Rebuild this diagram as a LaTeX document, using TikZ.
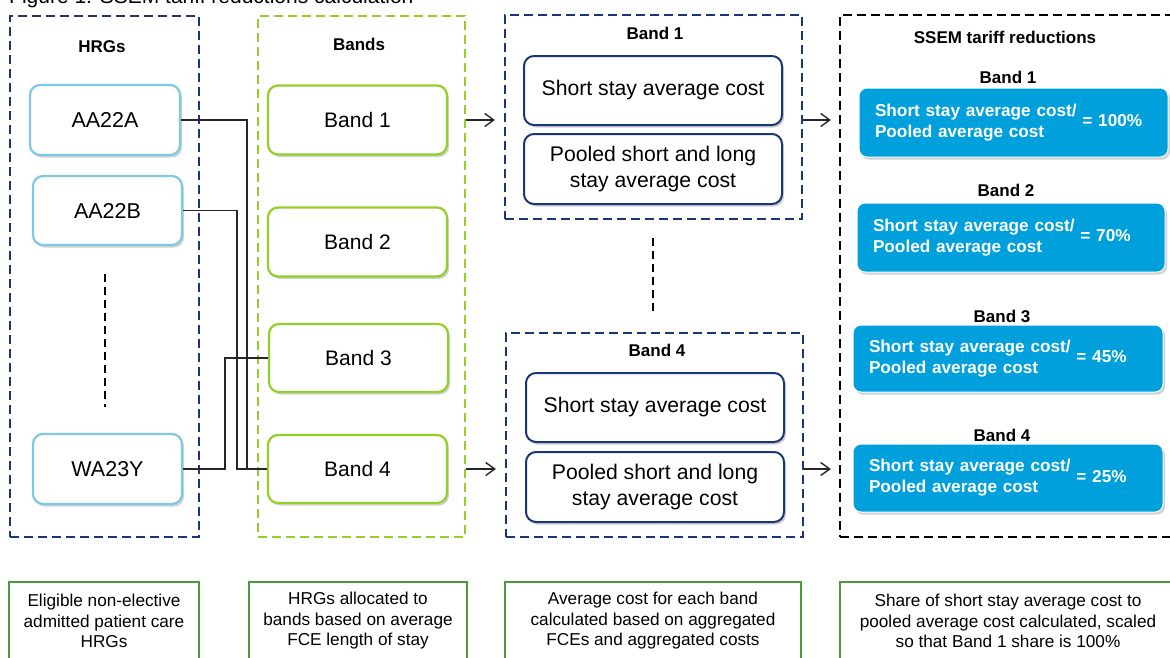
\documentclass[tikz,border=0pt]{standalone}
\usepackage{fontspec}
\setmainfont{Liberation Sans}
\usetikzlibrary{shadows,arrows.meta}
\definecolor{navy}{RGB}{25,55,120}
\definecolor{hrgblue}{RGB}{125,200,230}
\definecolor{lime}{RGB}{146,208,40}
\definecolor{ssblue}{RGB}{0,160,220}
\definecolor{notegreen}{RGB}{75,155,55}
\begin{document}
\begin{tikzpicture}[x=1pt,y=-1pt,
  shad/.style={drop shadow={shadow xshift=2pt,shadow yshift=-2.5pt,opacity=0.3,fill=black!60}},
  grp/.style={draw, line width=2.2pt, dash pattern=on 9pt off 5pt, inner sep=0pt},
  hrg/.style={draw=hrgblue, line width=2.2pt, rounded corners=10pt, fill=white, shad, font=\fontsize{21.5}{25}\selectfont, inner sep=0pt},
  bandbox/.style={draw=lime, line width=2.2pt, rounded corners=10pt, fill=white, shad, font=\fontsize{21}{25}\selectfont, inner sep=0pt, minimum width=179, minimum height=69},
  costbox/.style={draw=navy, line width=2pt, rounded corners=10pt, fill=white, shad, font=\fontsize{21.2}{26}\selectfont, align=center, inner sep=0pt, minimum width=258, minimum height=69},
  head/.style={font=\bfseries\fontsize{17}{20}\selectfont, inner sep=0pt},
  redbox/.style={fill=ssblue, draw=white, line width=1pt, rounded corners=8pt, shad, text=white, font=\bfseries\fontsize{17.2}{21}\selectfont, inner xsep=16pt, inner ysep=0pt, align=left, text width=277pt},
  note/.style={draw=notegreen, line width=1.3pt, font=\fontsize{17.2}{20.5}\selectfont, align=center, inner sep=0pt, minimum height=78},
  conn/.style={draw=black!85, line width=1.5pt},
  arr/.style={draw=black!85, line width=1.4pt, -{Straight Barb[length=9pt,width=13pt]}},
  dots/.style={draw=black, line width=2.4pt, dash pattern=on 8pt off 5pt}
]
\useasboundingbox (0,0) rectangle (1170,657);

% title (cut off at top, as in the reference)
\node[anchor=base west, font=\fontsize{21}{25}\selectfont, inner sep=0pt] (title) at (9,3) {Figure 1: SSEM tariff reductions calculation};

% group boxes
\node[grp, draw=navy, minimum width=189, minimum height=521] (hrgbox) at (104.5,276.5) {};
\node[grp, draw=lime, minimum width=207, minimum height=521] (bandsbox) at (361.5,276.5) {};
\node[grp, draw=navy, minimum width=297, minimum height=204] (g1) at (653.5,117) {};
\node[grp, draw=navy, minimum width=297, minimum height=204] (g4) at (654.5,435) {};
\node[grp, draw=black, minimum width=340, minimum height=522] (ssem) at (1010,276) {};

% headers
\node[head] (hrgt) at (102,47) {HRGs};
\node[head] (bandst) at (359,44) {Bands};
\node[head] (g1t) at (655,33) {Band 1};
\node[head] (g4t) at (657,350) {Band 4};
\node[head] (sst) at (1005,37) {SSEM tariff reductions};
\node[head] (r1t) at (1008,77) {Band 1};
\node[head] (r2t) at (1006,190) {Band 2};
\node[head] (r3t) at (1002,316) {Band 3};
\node[head] (r4t) at (1002,435) {Band 4};

% HRG nodes
\node[hrg, minimum width=150, minimum height=70] (aa22a) at (105,120) {AA22A};
\node[hrg, minimum width=149, minimum height=69] (aa22b) at (107.5,210.5) {AA22B};
\node[hrg, minimum width=149, minimum height=70] (wa23y) at (107.5,469) {WA23Y};
\coordinate (hd1) at (105,274);
\coordinate (hd2) at (105,407);
\draw[dots] (hd1) -- (hd2);

% bands
\node[bandbox] (band1) at (357.5,120) {Band 1};
\node[bandbox] (band2) at (357.5,242) {Band 2};
\node[bandbox, minimum height=68] (band3) at (358.5,358) {Band 3};
\node[bandbox, minimum height=68] (band4) at (357.5,469) {Band 4};

% connectors HRG -> bands
\draw[conn] (aa22a.east) -- ++(66,0) |- (band4.west);
\draw[conn] (aa22b.east) -- ++(54,0) |- (band4.west);
\draw[conn] (wa23y.east) -- ++(42,0) |- (band3.west);

% cost boxes
\node[costbox] (g1s) at (653,90.5) {Short stay average cost};
\node[costbox, minimum height=70] (g1p) at (653,169) {Pooled short and long\\stay average cost};
\node[costbox] (g4s) at (655,407.5) {Short stay average cost};
\node[costbox, minimum height=70] (g4p) at (655,487) {Pooled short and long\\stay average cost};
\coordinate (md1) at (653,238);
\coordinate (md2) at (653,313);
\draw[dots] (md1) -- (md2);

% arrows
\draw[arr, shorten >=9pt] (bandsbox.east |- band1) -- (g1.west |- band1);
\draw[arr, shorten >=9pt] (bandsbox.east |- band4) -- (g4.west |- band4);
\draw[arr, shorten >=8pt] (g1.east |- band1) -- (ssem.west |- band1);
\draw[arr, shorten >=8pt] (g4.east |- band4) -- (ssem.west |- band4);

% reductions
\node[redbox, text width=277pt, minimum height=69] (r1) at (1013.5,122.5) {\begin{tabular}{@{}l@{}}Short stay average cost/\\Pooled average cost\end{tabular} = 100\%};
\node[redbox, text width=276pt, minimum height=69] (r2) at (1011,237.5) {\begin{tabular}{@{}l@{}}Short stay average cost/\\Pooled average cost\end{tabular} = 70\%};
\node[redbox, text width=278pt, minimum height=67] (r3) at (1008,358.5) {\begin{tabular}{@{}l@{}}Short stay average cost/\\Pooled average cost\end{tabular} = 45\%};
\node[redbox, text width=278pt, minimum height=68] (r4) at (1008,478) {\begin{tabular}{@{}l@{}}Short stay average cost/\\Pooled average cost\end{tabular} = 25\%};

% notes
\node[note, minimum width=190] (n1) at (104,621) {Eligible non-elective\\admitted patient care\\HRGs};
\node[note, minimum width=218] (n2) at (358,621) {HRGs allocated to\\bands based on average\\FCE length of stay};
\node[note, minimum width=296] (n3) at (653,621) {Average cost for each band\\calculated based on aggregated\\FCEs and aggregated costs};
\node[note, minimum width=336] (n4) at (1008,621) {Share of short stay average cost to\\pooled average cost calculated, scaled\\so that Band 1 share is 100\%};
\end{tikzpicture}
\end{document}
